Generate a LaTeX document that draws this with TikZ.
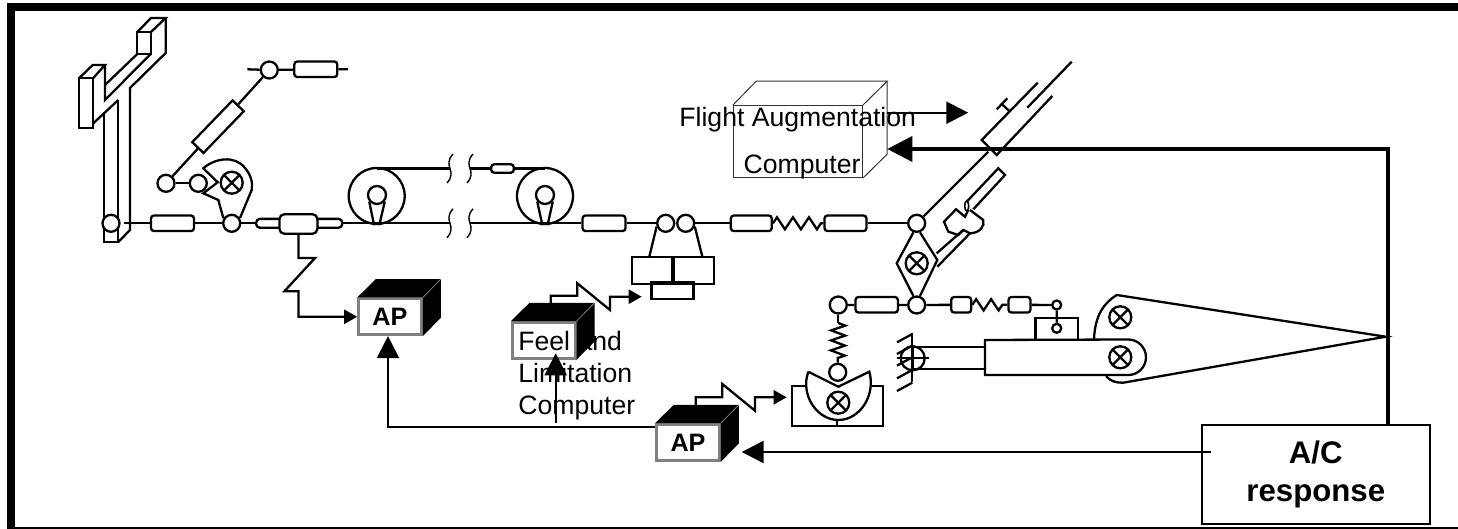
\documentclass[tikz,border=0pt]{standalone}
\usepackage{fontspec}
\setmainfont{Liberation Sans}
\usetikzlibrary{arrows.meta, calc, decorations.pathmorphing}
\tikzstyle{link} = [line width=1.15pt]
\tikzstyle{rod} = [rectangle, rounded corners=1.5pt, draw=black, fill=white, line width=1.15pt, inner sep=0pt, minimum height=7.8pt]
\tikzstyle{pivot} = [circle, draw=black, fill=white, line width=1.15pt, inner sep=0pt, minimum size=8.5pt]
\tikzstyle{joint} = [pivot, minimum size=4.5pt]
\tikzstyle{xpivot} = [pivot, minimum size=11pt, path picture={\draw[line width=1.15pt] (path picture bounding box.north west) -- (path picture bounding box.south east) (path picture bounding box.north east) -- (path picture bounding box.south west);}]
\tikzstyle{pulley} = [circle, draw=black, line width=1.15pt, inner sep=0pt, minimum size=28pt]
\tikzstyle{spring} = [link, decorate, decoration={zigzag, segment length=8pt, amplitude=3pt}]
\tikzstyle{apface} = [rectangle, draw=black!50, fill=white, line width=1.3pt, inner sep=0pt, minimum width=31.5pt, minimum height=18pt, font=\fontsize{12.6}{15}\selectfont\bfseries]
\tikzstyle{label} = [inner sep=0pt, font=\fontsize{13.3}{16}\selectfont]
\tikzstyle{signal} = [line width=1.15pt, -{Triangle[length=6.5pt,width=7pt]}]
\tikzstyle{bigsignal} = [line width=1.15pt, -{Triangle[length=11pt,width=11pt]}]
\tikzstyle{feedback} = [line width=1.8pt, -{Triangle[length=12.5pt,width=12.5pt]}]
\begin{document}
\begin{tikzpicture}[x=0.5pt, y=-0.5pt]
    \useasboundingbox (0,0) rectangle (1458,529);
    \fill[white] (0,0) rectangle (1458,529);
    \fill[black] (7.3,3) rectangle (1458,11);
    \fill[black] (7.3,3) rectangle (15,529);
    \fill[black] (7.3,526.7) rectangle (1458,529);

    \draw[link] (137.3,32) rectangle (151,54);
    \draw[link] (137.3,32) -- (151,18) -- (165.7,18) -- (151,32);
    \draw[link] (165.7,18) -- (165.7,53) -- (130,88) -- (130,230) -- (118.3,242);
    \draw[link] (118.3,100) -- (118.3,242) -- (104.3,242) -- (104.3,112);
    \draw[link] (105,65) -- (105,100) -- (150.7,54);
    \draw[link] (137.3,54) -- (105,85);
    \draw[link] (79.3,78) rectangle (93.3,127.7);
    \draw[link] (79.3,78) -- (92.7,65) -- (105,65) -- (93.3,78);
    \draw[link] (93.3,123.3) -- (118.3,100);

    \node (pivstick) [pivot] at (111,223.3) {};
    \coordinate (stickend) at (124,223.3);
    \node (rodstick) [rod, minimum width=21.5pt] at (172.5,223.3) {};
    \node (pivcam) [pivot] at (231.7,223.3) {};
    \node (stadium) [rod, rounded corners=1.8pt, minimum width=43pt, minimum height=4.4pt] at (299.2,223.3) {};
    \node (pickup) [rod, rounded corners=2.5pt, minimum width=19pt, minimum height=9.8pt] at (298.4,224) {};
    \draw[link] (stickend) -- (rodstick) -- (pivcam) -- (stadium);

    \node (xcam) [xpivot] at (231.7,182.7) {};
    \draw[link] (223.3,218) -- (218.3,200) -- (203.3,193.3) -- (217.7,182.3) -- (203.3,168.3) .. controls (215,158) and (235,155) .. (245,168) .. controls (251,175) and (253,183) .. (251.7,190) -- (240,218);
    \node (pivtrim) [pivot] at (198.3,183.3) {};
    \node (pivlow) [pivot] at (166,183.3) {};
    \node (pivhigh) [pivot] at (269.3,70) {};
    \node (rodslant) [rod, rounded corners=0pt, rotate=46, minimum width=29pt] at (218,126.7) {};
    \node (rodtrim) [rod, minimum width=21.5pt] at (315.8,69.3) {};
    \coordinate (trimleft) at (247.3,69.3);
    \coordinate (trimright) at (348,69.3);
    \draw[link] (pivlow) -- (pivtrim);
    \draw[link] (pivlow) -- (rodslant) -- (pivhigh);
    \draw[link] (trimleft) -- (pivhigh) -- (rodtrim) -- (trimright);

    \node (pulleya) [pulley] at (376.7,196) {};
    \node (huba) [pivot, minimum size=9pt] at (377,195) {};
    \node (pulleyb) [pulley] at (545,196) {};
    \node (hubb) [pivot, minimum size=9pt] at (545,195) {};
    \draw[link] (huba.220) -- ([xshift=-1.3pt]pulleya.south);
    \draw[link] (huba.320) -- ([xshift=1.3pt]pulleya.south);
    \draw[link] (hubb.220) -- ([xshift=-1.3pt]pulleyb.south);
    \draw[link] (hubb.320) -- ([xshift=1.3pt]pulleyb.south);

    \coordinate (cutlowa) at (450,223.3);
    \coordinate (cutlowb) at (470,223.3);
    \coordinate (cuthigha) at (450,168.5);
    \coordinate (cuthighb) at (470,168.5);
    \foreach \cut in {cutlowa, cutlowb, cuthigha, cuthighb}
        \draw[line width=0.7pt] ($(\cut)+(3,-14.5)$) .. controls ($(\cut)+(-8,-2)$) and ($(\cut)+(8,2)$) .. ($(\cut)+(-3,14.5)$);

    \node (rodcable) [rod, minimum width=11.3pt, minimum height=4.2pt] at (502.5,168.5) {};
    \draw[link] (pulleya.north |- cuthigha) -- (cuthigha);
    \draw[link] (cuthighb) -- (rodcable) -- (rodcable -| pulleyb.north);

    \node (rodfeel) [rod, minimum width=21.5pt] at (604,223.3) {};
    \node (pivfeela) [pivot] at (665.7,223.3) {};
    \node (pivfeelb) [pivot] at (685.7,223.3) {};
    \node (rodinputa) [rod, minimum width=20.5pt] at (751.3,223.3) {};
    \node (rodinputb) [rod, minimum width=21pt] at (845.5,223.3) {};
    \node (pivup) [pivot] at (916.7,223.3) {};
    \draw[link] (stadium) -- (cutlowa);
    \draw[link] (cutlowb) -- (rodfeel) -- (pivfeela);
    \draw[link] (pivfeelb) -- (rodinputa);
    \draw[spring] (rodinputa.east) -- (rodinputb.west);
    \draw[link] (rodinputb) -- (pivup);

    \node (blockl) [rectangle, draw=black, line width=1.15pt, inner sep=0pt, minimum width=21.1pt, minimum height=13.4pt] at (653,270.7) {};
    \node (blockr) [rectangle, draw=black, line width=1.15pt, inner sep=0pt, minimum width=21.1pt, minimum height=13.4pt] at (692.85,270.7) {};
    \node (blockb) [rectangle, draw=black, line width=1.15pt, inner sep=0pt, minimum width=21pt, minimum height=8.6pt] at (672.5,290.4) {};
    \coordinate (footl) at (649,258);
    \coordinate (footr) at (702.7,258);
    \draw[link] (pivfeela.200) -- (footl);
    \draw[link] (pivfeelb.340) -- (footr);

    \node (apa) [apface] at (390,316.8) {AP};
    \node (feelface) [apface] at (543.7,340.5) {};
    \node (apb) [apface] at (688,442.5) {AP};
    \foreach \blk in {apa, feelface, apb} {
        \fill[black] (\blk.north west) -- ($(\blk.north west)+(18.5,-18.3)$) -- ($(\blk.north east)+(18,-18.3)$) -- ($(\blk.south east)+(18,-18.3)$) -- (\blk.south east) -- (\blk.north east) -- cycle;
        \draw[black!50, line width=0.4pt] (\blk.north east) -- ($(\blk.north east)+(18,-18.3)$);
    }

    \coordinate (feelout) at (550.7,304.3);
    \coordinate (feeltip) at (641.7,296.7);
    \coordinate (apbout) at (695.7,406.7);
    \coordinate (apbtip) at (786.7,397.3);
    \draw[signal] (pickup.south) -- ++(0,23) -- ++(16.7,0) -- ++(-30.7,33.3) -- ++(14,0) |- (apa.west);
    \draw[signal] (feelout) -- ++(0,-8.6) -- ++(26.6,0) -- ++(0,-12.4) -- ++(32.7,26.7) -- ++(0,-13.3) -- (feeltip);
    \draw[signal] (apbout) -- ++(0,-9.4) -- ++(26.6,0) -- ++(0,-13.3) -- ++(32.7,26.7) -- ++(0,-13.4) -- (apbtip);

    \node (xrocker) [xpivot] at (916.7,263.3) {};
    \node (pivdown) [pivot] at (916.7,305) {};
    \draw[link] (pivup.250) -- (896.7,263.3) -- (pivdown.110);
    \draw[link] (pivup.290) -- (937.3,260) -- (pivdown.70);

    \coordinate (armtop) at (988.3,151.7);
    \draw[link] (pivup) -- (armtop);
    \draw[link] (1037.7,82.7) -- (981.7,140) -- (996.7,155) -- (1052.3,96);
    \draw[link] (1027.3,107.7) -- (1071.7,61.7);
    \draw[link] (996.7,109.3) -- (1007.3,98.3);
    \draw[link] (1001.7,104) -- (1010,111.7);
    \draw[link] (966.7,201.7) -- (998.3,168.3) -- (1005,175) -- (973.3,209.3);
    \draw[line width=0.8pt] (966.7,206) ellipse [x radius=2, y radius=5];
    \draw[link] (968.3,210) -- (965,216.7) -- (956,209.3) -- (944,221.7) -- (948.3,231.7) -- (958.3,235) -- (963.3,230) -- (970,233.3) .. controls (980,233) and (985,226) .. (983.3,220) -- (970,210);
    \draw[link] (936.7,253.3) -- (963.3,230);
    \draw[link] (937.3,266.7) -- (970,233.3);

    \node (pinspring) [pivot] at (838.3,305) {};
    \node (rodservo) [rod, minimum width=21.2pt] at (876.7,304.8) {};
    \node (rodlinka) [rod, minimum width=10pt] at (961.2,304.8) {};
    \node (rodlinkb) [rod, minimum width=11pt] at (1019.5,304.8) {};
    \node (jointa) [joint] at (1056.7,305) {};
    \node (valve) [rectangle, draw=black, line width=1.15pt, inner sep=0pt, minimum width=21.2pt, minimum height=11pt] at (1056.7,329.2) {};
    \node (jointb) [joint] at (1056.7,328.3) {};
    \draw[link] (pinspring) -- (rodservo) -- (pivdown) -- (rodlinka);
    \draw[spring, decoration={segment length=7.5pt, amplitude=2.8pt}] (rodlinka.east) -- (rodlinkb.west);
    \draw[link] (rodlinkb) -- (jointa) -- (jointb);

    \node (xcentre) [xpivot] at (838.3,402.7) {};
    \draw[link] (805,385.7) -- (791.7,385.7) -- (791.7,426) -- (882.7,426) -- (882.7,385.7) -- (871.5,385.7);
    \draw[link] (837,420) -- (837,426);
    \draw[link] (808.3,371.7) -- (838.3,386.7) -- (869.3,371.7) .. controls (876,395) and (860,420) .. (838.3,420) .. controls (817,420) and (800,395) .. (808.3,371.7);
    \node (roller) [pivot] at (837.7,372.3) {};
    \coordinate (springtop) at (838.3,323);
    \draw[link] (pinspring) -- (springtop);
    \draw[spring, decoration={segment length=5pt, amplitude=3.5pt}] (springtop) -- (roller.north);

    \draw[link] (912.3,333.3) -- (912.3,381.7);
    \foreach \y in {334, 345.7, 357.3, 370, 382.7}
        \draw[link] (912.3,\y) -- (897,\y+8.3);
    \node (pinwall) [pivot, minimum size=12pt, fill=none] at (912.7,358.3) {};
    \draw[link] ([xshift=-1.4pt]pinwall.west) -- ([xshift=1.4pt]pinwall.east);
    \draw[link] (pinwall.north) -- (pinwall.south);
    \draw[link] (913,347.3) -- (985,347.3);
    \draw[link] (913,369.3) -- (985,369.3);

    \coordinate (levertip) at (1385.7,336.7);
    \draw[link] (1094,339.3) .. controls (1095,315) and (1104,303) .. (1116.7,295) -- (levertip) -- (1123.3,382.7) .. controls (1116,383) and (1110,381) .. (1106,376);
    \draw[link] (985,340) -- (1128.3,339.5) .. controls (1138,339.5) and (1146,347.5) .. (1146,357.3) .. controls (1146,367) and (1138,375) .. (1128.3,375) -- (985,375) -- cycle;
    \node (xlevera) [xpivot] at (1120.3,317.3) {};
    \node (xleverb) [xpivot] at (1120.3,357.3) {};

    \node (fabox) [rectangle, draw=black!80, line width=0.5pt, inner sep=0pt, minimum width=64.5pt, minimum height=36pt] at (797.8,141.7) {};
    \draw[black!80, line width=0.5pt] (fabox.north west) -- ($(fabox.north west)+(23.4,-24)$) -- ($(fabox.north east)+(24.4,-24)$) -- (fabox.north east);
    \draw[black!80, line width=0.5pt] ($(fabox.north east)+(24.4,-24)$) -- ($(fabox.south east)+(24.4,-24)$) -- (fabox.south east);
    \node (falabela) [label, anchor=base west] at (679,127) {Flight Augmentation};
    \node (falabelb) [label, anchor=base west] at (743.3,174) {Computer};

    \node (feellabel) [label, anchor=west, align=left] at (518,376) {Feel and\\Limitation\\Computer};

    \node (acbox) [rectangle, draw=black, line width=1pt, inner sep=0pt, minimum width=114pt, minimum height=49.3pt, align=center, font=\fontsize{15.6}{19}\selectfont\bfseries] at (1315.8,474.5) {A/C\\response};

    \coordinate (faout) at (886.7,112.7);
    \coordinate (fatip) at (968.3,112.7);
    \coordinate (facin) at (887.3,149);
    \coordinate (feelfoot) at (555.7,423.3);
    \coordinate (feeltop) at (555.7,353.3);
    \coordinate (actail) at (1210.7,452);
    \coordinate (aptip) at (741.7,452);
    \draw[bigsignal] (faout) -- (fatip);
    \draw[feedback] (acbox.north -| 1388,0) |- (facin);
    \draw[bigsignal] (feelfoot) -- (feeltop);
    \draw[bigsignal] (actail) -- (aptip);
    \draw[bigsignal] ([yshift=-2pt]apb.north west) -| ([xshift=-1pt]apa.south);
\end{tikzpicture}
\end{document}
